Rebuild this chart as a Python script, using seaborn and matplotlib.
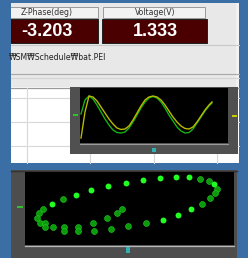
import matplotlib
matplotlib.use("Agg")
import matplotlib.pyplot as plt
from matplotlib.patches import Rectangle
import pandas as pd
import seaborn as sns

# readout panel
header_labels = ["Z-Phase(deg)", "Voltage(V)"]
readout_values = ["-3.203", "1.333"]
file_path = "₩SM₩Schedule₩bat.PEI"

# waveform window (time in samples, level)
t = [0, 4, 8, 12, 16, 20, 24, 28, 32, 36, 40, 44, 48, 52, 56, 60, 64,
     68, 72, 76, 80, 84, 88, 92, 96, 100, 104, 108, 112, 116, 120, 124, 128, 131]
wave_green = [29, 43, 47, 44, 38, 31, 24, 18, 13, 10.5, 10, 11, 15, 21, 28, 35, 41,
              45, 46.5, 45, 41, 35, 28, 22, 16, 12, 10, 10.5, 14, 20, 26, 32, 37, 40]
wave_yellow = [5, 31, 47, 46, 42, 36, 30, 24, 19, 15, 13.5, 14, 17, 23, 30, 37, 43,
               46, 47, 46, 43, 38, 32, 26, 21, 17, 14.5, 14, 16, 21, 27, 33, 38, 41]

# x-y plot window
solid_x = [27, 51, 66, 83, 101, 118, 135, 151, 164, 189, 166, 153, 138]
solid_y = [41, 50, 55, 59, 62, 65, 67, 68, 68, 61, 36, 30, 25]
hatch_x = [38, 18, 14, 12, 15, 20, 20, 28, 39, 39, 53, 53, 68, 69, 82, 86, 92,
           97, 103, 121, 175, 184, 192, 190, 185, 177]
hatch_y = [46, 36, 32, 27, 22, 22, 18, 18, 18, 14, 18, 14, 22, 14, 27, 16, 32,
           36, 19, 22, 66, 64, 56, 52, 47, 41]

W, H = 248, 258
fig = plt.figure(figsize=(W / 100, H / 100), dpi=100)
fig.patch.set_facecolor("#3a6ea5")


def px_axes(x0, y0, x1, y1):
    return fig.add_axes([x0 / W, 1 - y1 / H, (x1 - x0) / W, (y1 - y0) / H])


def rect(ax, x0, y0, x1, y1, fc, ec="none", lw=0, z=1):
    p = Rectangle((x0, y0), x1 - x0, y1 - y0, facecolor=fc,
                  edgecolor=ec, linewidth=lw, zorder=z)
    ax.add_patch(p)
    return p


bg = fig.add_axes([0, 0, 1, 1])
bg.set_xlim(0, W)
bg.set_ylim(H, 0)
bg.axis("off")

# top gray panel
panel = rect(bg, 11, 3, 239, 87, "#e8e8e8")
rect(bg, 236, 3, 239, 87, "#f2f2f2")
hx = [(4, 98), (103, 205)]
vx = [(4, 98), (102, 207)]
centers = [47, 155.5]
for (a, b), (c, d), cx, lab, val in zip(hx, vx, centers, header_labels, readout_values):
    p = rect(bg, a, 7, b, 18, "#f2f2f2", "#9a9a9a", 0.7, 2)
    p.set_clip_path(panel)
    bg.text(cx, 12.8, lab, ha="center", va="center",
            fontsize=5.6, color="#303030", family="DejaVu Sans")
    p = rect(bg, c, 19, d, 43, "#4a0000", "#202020", 0.7, 2)
    p.set_clip_path(panel)
    bg.text(cx, 31.5, val, ha="center", va="center",
            fontsize=13, color="white", fontweight="bold", family="Liberation Sans")
bg.plot([11, 239], [45, 45], color="#c8c8c8", lw=0.8)
txt = bg.text(8.5, 57.5, file_path, ha="left", va="center", fontsize=5.6,
              color="#202020", family="DejaVu Sans", zorder=2)
txt.set_clip_path(panel)
bg.plot([11, 239], [74, 74], color="#a8a8a8", lw=0.8)
bg.plot([11, 239], [77.5, 77.5], color="#d4d4d4", lw=0.8)

# spreadsheet area
rect(bg, 11, 87, 239, 163, "white")
bg.plot([11, 239], [87.5, 87.5], color="#9a9a9a", lw=0.9)
for gx in [27, 90, 154, 217]:
    bg.plot([gx, gx], [88, 163], color="#d8d8d8", lw=0.8)
for gy in [98, 122, 146]:
    bg.plot([11, 239], [gy, gy], color="#d8d8d8", lw=0.8)

# waveform frame
rect(bg, 70, 87, 238, 154, "#505050", z=3)
bg.plot([80, 228], [143.5, 143.5], color="#9a9a9a", lw=0.8, zorder=4)
rect(bg, 73, 114, 78, 116, "#30c030", z=4)
rect(bg, 232, 115, 237, 117, "#c8c800", z=4)
rect(bg, 152, 148, 156, 152, "#30b0b0", z=4)

# bottom x-y frame
rect(bg, 11, 170, 237, 258, "#4d4d4d")
bg.plot([11, 237], [170.5, 170.5], color="#333333", lw=1)
bg.plot([25, 234], [245.5, 245.5], color="#b8b8b8", lw=0.9)
rect(bg, 17, 206, 23, 208, "#30c030", z=2)
rect(bg, 126, 247, 130, 253, "#30b0b0", z=2)

# waveform plot
ax1 = px_axes(80, 88, 228, 143)
ax1.set_facecolor("black")
sns.lineplot(x=t, y=wave_green, color="#14b014", lw=1.0, ax=ax1)
sns.lineplot(x=t, y=wave_yellow, color="#b8b800", lw=1.0, ax=ax1)
ax1.set_xlim(-1, 147)
ax1.set_ylim(0, 55)
ax1.set_xticks([])
ax1.set_yticks([])
for s in ax1.spines.values():
    s.set_visible(False)

# x-y dots plot
ax2 = px_axes(25, 172, 234, 245)
ax2.set_facecolor("black")
sns.scatterplot(x=hatch_x, y=hatch_y, color="#0c9a0c", s=18, marker="o",
                edgecolor="#20d020", linewidth=0.4, ax=ax2)
sns.scatterplot(x=solid_x, y=solid_y, color="#22ff22", s=18, marker="o",
                linewidth=0, ax=ax2)
ax2.set_xlim(0, 209)
ax2.set_ylim(0, 73)
ax2.set_xticks([])
ax2.set_yticks([])
for s in ax2.spines.values():
    s.set_visible(False)

fig.savefig("out.png", dpi=100, facecolor=fig.get_facecolor())
